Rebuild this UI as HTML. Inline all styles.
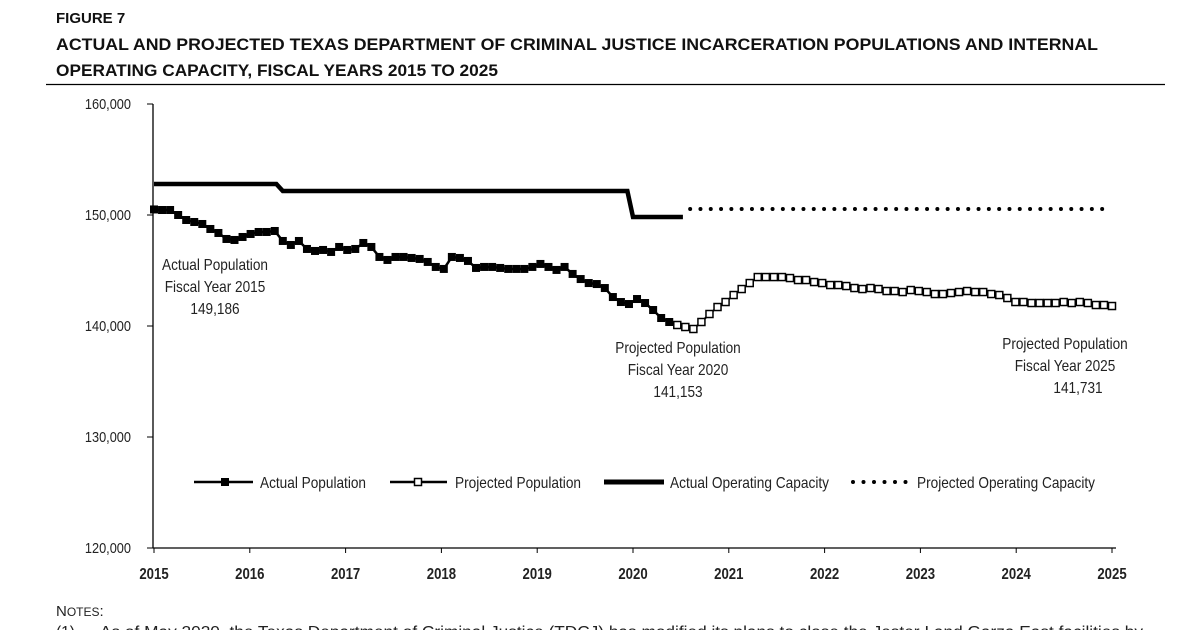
<!DOCTYPE html>
<html><head><meta charset="utf-8">
<style>
html,body{margin:0;padding:0;background:#fff;width:1200px;height:630px;overflow:hidden}
svg{display:block}
.t{font-family:"Liberation Sans",sans-serif;font-weight:bold;fill:#111}
.c{font-family:"Liberation Sans Narrow","Liberation Sans",sans-serif;fill:#222}
</style></head><body>
<svg id="chart" width="1200" height="630" viewBox="0 0 1200 630">
<text class="t" x="56" y="23" font-size="15">FIGURE 7</text>
<text class="t" x="56" y="50" font-size="17" textLength="1042" lengthAdjust="spacingAndGlyphs">ACTUAL AND PROJECTED TEXAS DEPARTMENT OF CRIMINAL JUSTICE INCARCERATION POPULATIONS AND INTERNAL</text>
<text class="t" x="56" y="76" font-size="17" textLength="442" lengthAdjust="spacingAndGlyphs">OPERATING CAPACITY, FISCAL YEARS 2015 TO 2025</text>
<line x1="46" y1="84.5" x2="1165" y2="84.5" stroke="#000" stroke-width="1.2"/>
<g id="axes"></g>
<g id="marks"></g>
<g id="legend">
 <g>
  <line x1="194" y1="482" x2="253" y2="482" stroke="#000" stroke-width="2.5"/>
  <rect x="221" y="478" width="8" height="8" fill="#000"/>
  <text class="c" x="260" y="488" font-size="16" textLength="106" lengthAdjust="spacingAndGlyphs">Actual Population</text></g>
 <g>
  <line x1="390" y1="482" x2="447" y2="482" stroke="#000" stroke-width="2.5"/>
  <rect x="414.5" y="478.5" width="7" height="7" fill="#fff" stroke="#000" stroke-width="1.5"/>
  <text class="c" x="455" y="488" font-size="16" textLength="126" lengthAdjust="spacingAndGlyphs">Projected Population</text></g>
 <g>
  <line x1="604" y1="482" x2="664" y2="482" stroke="#000" stroke-width="5"/>
  <text class="c" x="670" y="488" font-size="16" textLength="159" lengthAdjust="spacingAndGlyphs">Actual Operating Capacity</text></g>
 <g>
  <line x1="853" y1="482" x2="906" y2="482" stroke="#000" stroke-width="4" stroke-dasharray="0 10.5" stroke-linecap="round"/>
  <text class="c" x="917" y="488" font-size="16" textLength="178" lengthAdjust="spacingAndGlyphs">Projected Operating Capacity</text></g>
</g>
<g class="c cc" font-size="16" text-anchor="middle">
 <text x="215" y="270">Actual Population</text><text x="215" y="292">Fiscal Year 2015</text><text x="215" y="314">149,186</text></g>
<g class="c cc" font-size="16" text-anchor="middle">
 <text x="678" y="353">Projected Population</text><text x="678" y="375">Fiscal Year 2020</text><text x="678" y="397">141,153</text></g>
<g class="c cc" font-size="16" text-anchor="middle">
 <text x="1065" y="349">Projected Population</text><text x="1065" y="371">Fiscal Year 2025</text><text x="1078" y="393">141,731</text></g>
<text x="56" y="616" font-family="Liberation Sans,sans-serif" font-size="15" fill="#222">N<tspan font-size="12">OTES</tspan>:</text>
<text x="56" y="637" font-family="Liberation Sans,sans-serif" font-size="15.5" fill="#222">(1)</text>
<text x="100" y="637" font-family="Liberation Sans,sans-serif" font-size="15.5" fill="#222" textLength="1043" lengthAdjust="spacingAndGlyphs">As of May 2020, the Texas Department of Criminal Justice (TDCJ) has modified its plans to close the Jester I and Garza East facilities by</text>
</svg>
<script>
const yearLabels=[2015,2016,2017,2018,2019,2020,2021,2022,2023,2024,2025];
const yTicks=[120000,130000,140000,150000,160000];
const actualPop=[150500,150450,150450,150000,149550,149370,149190,148740,148380,147840,147750,148020,148290,148470,148470,148560,147660,147300,147660,146940,146760,146850,146670,147120,146850,146940,147480,147120,146220,145950,146220,146220,146130,146040,145770,145320,145140,146220,146130,145860,145230,145320,145320,145230,145140,145140,145140,145320,145590,145320,145050,145320,144690,144230,143870,143780,143420,142610,142160,141980,142430,142070,141440,140720,140360];
const projPop=[140090,139910,139730,140360,141080,141710,142160,142790,143330,143870,144410,144410,144410,144410,144320,144140,144140,143960,143870,143690,143690,143600,143420,143330,143420,143330,143150,143150,143060,143240,143150,143060,142880,142880,142970,143060,143150,143060,143060,142880,142790,142520,142160,142160,142070,142070,142070,142070,142160,142070,142160,142070,141890,141890,141800];
const capMonths=[0,15.2,16,58.8,59.5,65.7];
const capValues=[152790,152790,152160,152160,149820,149820];
const projCapMonths=[66.6,119];
const projCapValues=[150540,150540];
const NS='http://www.w3.org/2000/svg';
const X0=154,X1=1112,Y0=548,Y1=104,NM=119;
const xm=m=>X0+(X1-X0)*m/NM;
const xy=i=>X0+(X1-X0)*i/(yearLabels.length-1);
const yv=v=>Y0-(v-120000)/40000*(Y0-Y1);
function mk(tag,at,parent){const e=document.createElementNS(NS,tag);for(const k in at)e.setAttribute(k,at[k]);parent.appendChild(e);return e;}
const axes=document.getElementById('axes'),marks=document.getElementById('marks');
let e=mk('line',{x1:153,y1:Y1,x2:153,y2:Y0,stroke:'#000','stroke-width':1.3},axes);


e=mk('line',{x1:153,y1:Y0,x2:1116,y2:Y0,stroke:'#000','stroke-width':1.3},axes);


yTicks.forEach(v=>{
 mk('line',{x1:147,y1:yv(v),x2:153,y2:yv(v),stroke:'#000'},axes);
 const t=mk('text',{x:131,y:yv(v)+5,'text-anchor':'end','font-size':15,class:'c cc'},axes);
 t.textContent=v.toLocaleString('en-US');
 
 
});
yearLabels.forEach((y,i)=>{
 mk('line',{x1:xy(i),y1:Y0,x2:xy(i),y2:Y0+5,stroke:'#000'},axes);
 const t=mk('text',{x:xy(i),y:579,'text-anchor':'middle','font-size':15.5,'font-weight':'bold',class:'c cc'},axes);
 t.textContent=y;
 
 
});
let p=capMonths.map((m,i)=>xm(m)+','+yv(capValues[i])).join(' ');
e=mk('polyline',{points:p,fill:'none',stroke:'#000','stroke-width':4.5},marks);


e=mk('line',{x1:xm(projCapMonths[0]),y1:yv(projCapValues[0]),x2:xm(projCapMonths[1]),y2:yv(projCapValues[1]),stroke:'#000','stroke-width':4,'stroke-dasharray':'0 10.3','stroke-linecap':'round'},marks);


p=actualPop.map((v,i)=>xm(i)+','+yv(v)).join(' ');
e=mk('polyline',{points:p,fill:'none',stroke:'#000','stroke-width':2.5},marks);


actualPop.forEach((v,i)=>{
 const r=mk('rect',{x:xm(i)-4,y:yv(v)-4,width:8,height:8,fill:'#000'},marks);
 
 
});
const off=actualPop.length;
const last=actualPop[off-1];
p=[xm(off-1)+','+yv(last)].concat(projPop.map((v,i)=>xm(off+i)+','+yv(v))).join(' ');
e=mk('polyline',{points:p,fill:'none',stroke:'#000','stroke-width':2},marks);


projPop.forEach((v,i)=>{
 const r=mk('rect',{x:xm(off+i)-3.5,y:yv(v)-3.5,width:7,height:7,fill:'#fff',stroke:'#000','stroke-width':1.5},marks);
 
 
});
document.querySelectorAll('.cc text, text.cc').forEach(t=>{
 const w=t.getComputedTextLength();
 t.setAttribute('textLength',(w*0.85).toFixed(1));
 t.setAttribute('lengthAdjust','spacingAndGlyphs');
});
</script>
</body></html>
